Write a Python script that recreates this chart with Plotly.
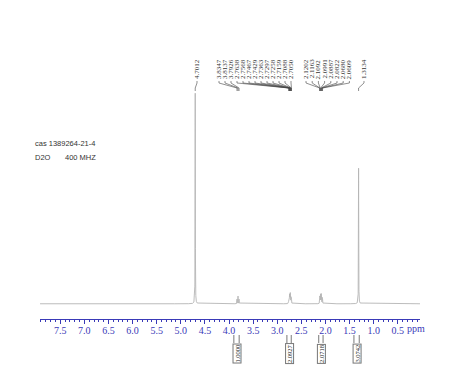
import numpy as np
import plotly.graph_objects as go

# ---------------- data ----------------
solvent_ppm = [4.7012]
solvent_h = [0.835]
mult_a_ppm = [3.8347, 3.8137, 3.7926]
mult_a_h = [0.018, 0.030, 0.018]
mult_b_ppm = [2.7638, 2.7568, 2.7467, 2.7429, 2.7363, 2.7297, 2.7258, 2.7159, 2.7088, 2.7050]
mult_b_h = [0.014, 0.018, 0.022, 0.026, 0.030, 0.030, 0.026, 0.022, 0.018, 0.014]
mult_c_ppm = [2.1202, 2.1163, 2.1092, 2.0991, 2.0887, 2.0822, 2.0680, 2.0609]
mult_c_h = [0.016, 0.022, 0.028, 0.034, 0.034, 0.028, 0.022, 0.016]
singlet_ppm = [1.3134]
singlet_h = [0.535]

peak_labels = ["4.7012", "3.8347", "3.8137", "3.7926", "2.7638", "2.7568", "2.7467", "2.7429",
               "2.7363", "2.7297", "2.7258", "2.7159", "2.7088", "2.7050", "2.1202", "2.1163",
               "2.1092", "2.0991", "2.0887", "2.0822", "2.0680", "2.0609", "1.3134"]

integral_values = ["1.0000", "2.0927", "2.0718", "3.0742"]
integral_from = [3.90, 2.80, 2.14, 1.41]
integral_to = [3.79, 2.71, 2.05, 1.30]

tick_values = [7.5, 7.0, 6.5, 6.0, 5.5, 5.0, 4.5, 4.0, 3.5, 3.0, 2.5, 2.0, 1.5, 1.0, 0.5]
info_lines = ["cas 1389264-21-4", "D2O&nbsp;&nbsp;&nbsp;&nbsp;&nbsp;&nbsp;&nbsp;400 MHZ"]

# ---------------- layout geometry ----------------
W, H = 474, 388
L, R, T, B = 40, 54, 50, 69
X_RANGE = [7.92, 0.04]
Y_RANGE = [-0.06, 1.0]
PW, PH = W - L - R, H - T - B


def ppm_to_px(p):
    return L + (X_RANGE[0] - p) / (X_RANGE[0] - X_RANGE[1]) * PW


def px_to_paper_x(px):
    return (px - L) / PW


def py_to_paper(py):
    return (H - B - py) / PH


# ---------------- spectrum ----------------
all_ppm = solvent_ppm + mult_a_ppm + mult_b_ppm + mult_c_ppm + singlet_ppm
all_h = solvent_h + mult_a_h + mult_b_h + mult_c_h + singlet_h
grid = np.arange(X_RANGE[1], X_RANGE[0], 0.0005)
hw = 0.0025
spec = np.zeros_like(grid)
for p, h in zip(all_ppm, all_h):
    spec += h * hw**2 / ((grid - p) ** 2 + hw**2)

fig = go.Figure()
fig.add_trace(go.Scatter(x=grid, y=spec, mode="lines",
                         line=dict(color="#b4b4b4", width=0.9), hoverinfo="skip"))

shapes = []
annotations = []

# ---------------- peak labels with fan lines ----------------
label_px = [197]
label_px += [219 + 6.0 * i for i in range(13)]
label_px += [306 + 6.2 * i for i in range(8)]
label_px += [364]
for txt, lx in zip(peak_labels, label_px):
    val = float(txt)
    pk = ppm_to_px(val)
    annotations.append(dict(x=px_to_paper_x(lx), y=py_to_paper(69), xref="paper", yref="paper",
                            xanchor="center", yanchor="middle",
                            text=txt, textangle=-90, showarrow=False,
                            font=dict(family="Liberation Serif", size=7, color="#333")))
    pts = [(lx, 81), (lx, 83), (pk, 88), (pk, 91)]
    path = "M " + " L ".join(f"{px_to_paper_x(a):.5f},{py_to_paper(b):.5f}" for a, b in pts)
    shapes.append(dict(type="path", path=path, xref="paper", yref="paper",
                       line=dict(color="#444", width=0.6)))

# ---------------- integrals ----------------
for val, a, b in zip(integral_values, integral_from, integral_to):
    xa, xb = ppm_to_px(a), ppm_to_px(b)
    for xx in (xa, xb):
        shapes.append(dict(type="line", xref="paper", yref="paper",
                           x0=px_to_paper_x(xx), x1=px_to_paper_x(xx),
                           y0=py_to_paper(335), y1=py_to_paper(343),
                           line=dict(color="#555", width=0.8)))
    annotations.append(dict(x=px_to_paper_x((xa + xb) / 2), y=py_to_paper(354),
                            xref="paper", yref="paper", xanchor="center", yanchor="middle",
                            text=val, textangle=-90,
                            showarrow=False, bordercolor="#777", borderwidth=1, borderpad=0,
                            font=dict(family="Liberation Serif", size=6.5, color="#222")))

# ---------------- info text ----------------
for i, t in enumerate(info_lines):
    annotations.append(dict(x=px_to_paper_x(33), y=py_to_paper(143 + 14 * i), xref="paper",
                            yref="paper", text=t, showarrow=False, xanchor="left",
                            yanchor="middle",
                            font=dict(family="Liberation Sans", size=7.5, color="#333")))

# ppm unit label
annotations.append(dict(x=px_to_paper_x(405), y=py_to_paper(328), xref="paper", yref="paper",
                        text="ppm", showarrow=False, xanchor="left", yanchor="middle",
                        font=dict(family="Liberation Serif", size=10, color="#3a3ab8")))

fig.update_layout(
    width=W, height=H, margin=dict(l=L, r=R, t=T, b=B),
    paper_bgcolor="white", plot_bgcolor="white", showlegend=False,
    shapes=shapes, annotations=annotations,
    xaxis=dict(range=X_RANGE, showgrid=False, zeroline=False, showline=True,
               linecolor="#3a3ab8", linewidth=1, ticks="outside", ticklen=4,
               tickcolor="#3a3ab8", tickvals=tick_values,
               ticktext=[f"{v:.1f}" for v in tick_values], ticklabelstandoff=-2,
               tickfont=dict(family="Liberation Serif", size=10, color="#3a3ab8"),
               minor=dict(dtick=0.1, ticks="outside", ticklen=2, tickcolor="#3a3ab8",
                          showgrid=False)),
    yaxis=dict(range=Y_RANGE, visible=False, showgrid=False, zeroline=False),
)

fig.write_html("out.html")
